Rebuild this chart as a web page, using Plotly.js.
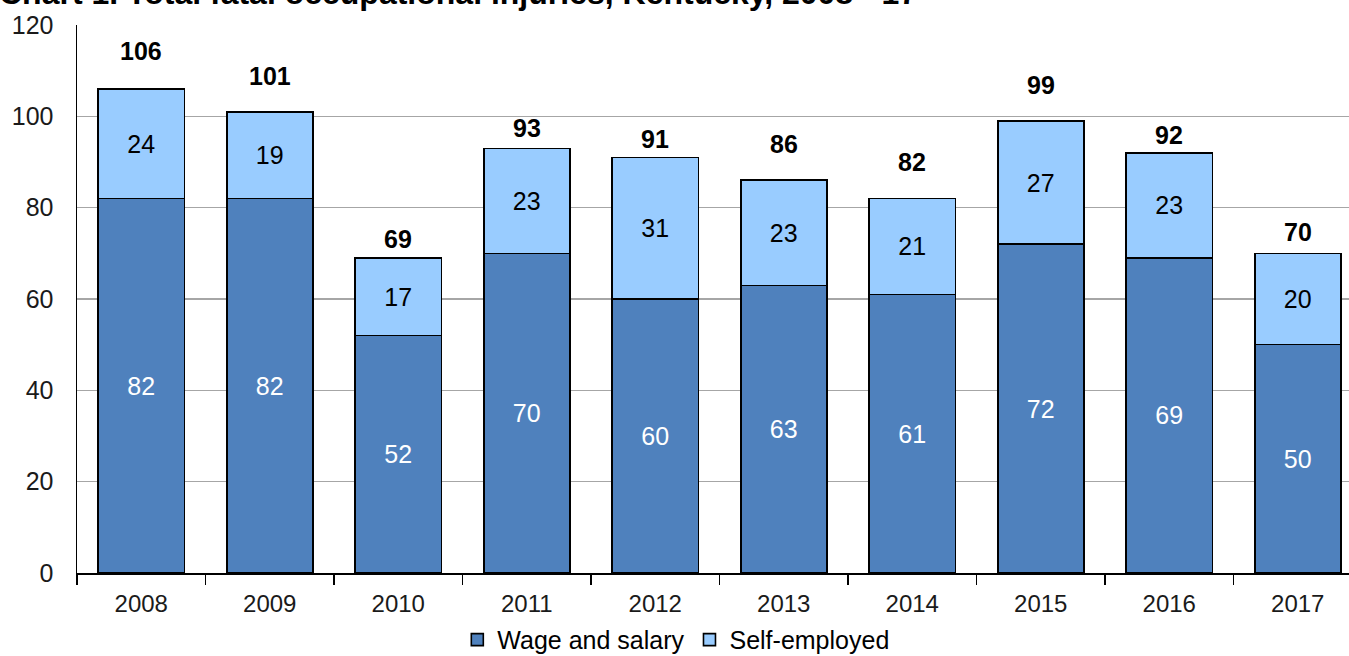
<!DOCTYPE html>
<html>
<head>
<meta charset="utf-8">
<script src="https://cdn.plot.ly/plotly-3.0.1.min.js"></script>
<style>
html, body { margin: 0; padding: 0; overflow: hidden; background: #ffffff; }
#chart { width: 1365px; height: 656px; }
</style>
</head>
<body>
<div id="chart"></div>
<script>
const years = ['2008', '2009', '2010', '2011', '2012', '2013', '2014', '2015', '2016', '2017'];
const wageSalary = [82, 82, 52, 70, 60, 63, 61, 72, 69, 50];
const selfEmployed = [24, 19, 17, 23, 31, 23, 21, 27, 23, 20];
const totals = [106, 101, 69, 93, 91, 86, 82, 99, 92, 70];
const yTicks = [0, 20, 40, 60, 80, 100, 120];
const chartTitle = 'Chart 1. Total fatal occupational injuries, Kentucky, 2008 - 17';

// label placement (pixels above bar top), as hand-placed in the original
const totalLabelLift = [22, 20, 3, 4, 2, 20, 21, 20, 2, 5];

const FONT = 'Liberation Sans, Arial, sans-serif';

const traces = [
  {
    type: 'bar', name: 'Wage and salary', x: years, y: wageSalary,
    text: wageSalary.map(String), textposition: 'inside', insidetextanchor: 'middle',
    textfont: { family: FONT, size: 25, color: '#ffffff' },
    marker: { color: '#4F81BD', line: { color: '#000000', width: 1.6 } },
    width: 0.67, hoverinfo: 'skip', cliponaxis: false
  },
  {
    type: 'bar', name: 'Self-employed', x: years, y: selfEmployed,
    text: selfEmployed.map(String), textposition: 'inside', insidetextanchor: 'middle',
    textfont: { family: FONT, size: 25, color: '#000000' },
    marker: { color: '#99CCFF', line: { color: '#000000', width: 1.6 } },
    width: 0.67, hoverinfo: 'skip', cliponaxis: false
  }
];

const annotations = years.map((yr, i) => ({
  x: i, y: totals[i], xref: 'x', yref: 'y',
  text: '<b>' + totals[i] + '</b>', showarrow: false,
  yanchor: 'bottom', yshift: totalLabelLift[i],
  font: { family: FONT, size: 25, color: '#000000' }
}));

annotations.push({
  xref: 'paper', yref: 'paper', x: -0.0623, y: 1.021,
  xanchor: 'left', yanchor: 'bottom', showarrow: false,
  text: '<b>' + chartTitle + '</b>',
  font: { family: FONT, size: 32, color: '#000000' }
});

const layout = {
  width: 1365, height: 656,
  margin: { l: 77, r: 3, t: 25, b: 83, autoexpand: false },
  paper_bgcolor: '#ffffff', plot_bgcolor: '#ffffff',
  barmode: 'stack', bargap: 0.33,
  showlegend: true,
  legend: {
    orientation: 'h', x: 0.466, xanchor: 'center', y: -0.122, yanchor: 'middle',
    font: { family: FONT, size: 25, color: '#000000' },
    traceorder: 'normal', itemwidth: 30
  },
  xaxis: {
    type: 'category', range: [-0.5, 9.5],
    showline: true, linecolor: '#000000', linewidth: 1.5,
    ticks: 'outside', tickson: 'boundaries', ticklen: 10, tickwidth: 1.5, tickcolor: '#000000',
    ticklabelstandoff: 9,
    tickfont: { family: FONT, size: 24, color: '#1a1a1a' },
    showgrid: false, zeroline: false, fixedrange: true
  },
  yaxis: {
    range: [0, 120], tickvals: yTicks, ticktext: yTicks.map(String),
    showline: true, linecolor: '#000000', linewidth: 1.5,
    ticks: '', ticklabelstandoff: 17,
    tickfont: { family: FONT, size: 25, color: '#1a1a1a' },
    showgrid: true, gridcolor: '#a6a6a6', gridwidth: 1.5,
    zeroline: false, fixedrange: true
  },
  annotations: annotations
};

Plotly.newPlot('chart', traces, layout, { displayModeBar: false, staticPlot: true });
</script>
</body>
</html>
